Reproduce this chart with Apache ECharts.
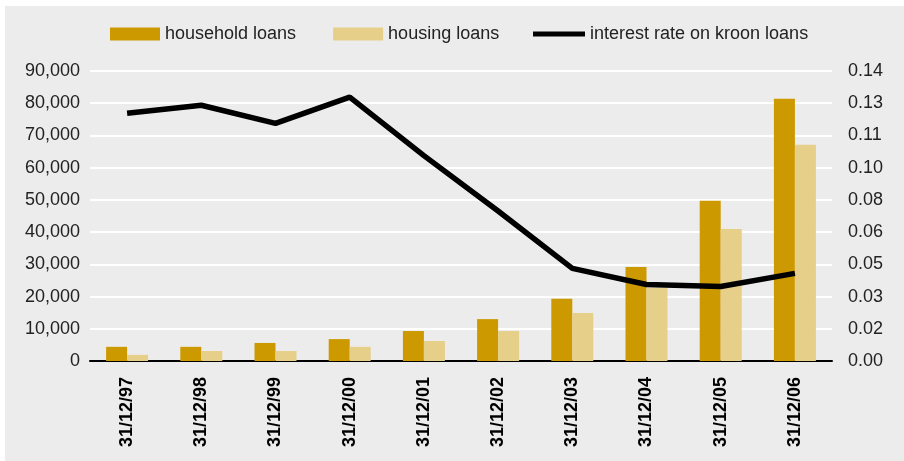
<!DOCTYPE html>
<html>
<head>
<meta charset="utf-8">
<script src="https://cdn.jsdelivr.net/npm/echarts@6/dist/echarts.min.js"></script>
<style>
  html, body { margin: 0; padding: 0; background: #ffffff; }
  #panel { position: absolute; left: 5px; top: 6px; width: 899px; height: 455px; background: #ececec; }
  #chart { position: absolute; left: 0; top: 0; width: 904px; height: 461px; }
</style>
</head>
<body>
<div id="panel"></div>
<div id="chart"></div>
<script>
// Year-end dates
const categories = ['31/12/97', '31/12/98', '31/12/99', '31/12/00', '31/12/01',
                    '31/12/02', '31/12/03', '31/12/04', '31/12/05', '31/12/06'];
// Loan stocks (left axis)
const householdLoans = [4400, 4400, 5600, 6800, 9300, 13000, 19300, 29200, 49700, 81400];
const housingLoans   = [1900, 3100, 3100, 4400, 6200, 9300, 14900, 22700, 41000, 67100];
// Interest rate on kroon loans (right axis)
const kroonRate = [0.123, 0.127, 0.118, 0.131, 0.102, 0.0745, 0.046, 0.038, 0.037, 0.0435];

const FONT = 'Liberation Sans, Arial, Helvetica, sans-serif';
const chart = echarts.init(document.getElementById('chart'), null, { renderer: 'canvas' });

chart.setOption({
  backgroundColor: 'transparent',
  animation: false,
  textStyle: { fontFamily: FONT },
  legend: [
    {
      left: 110, top: 25, padding: 0,
      itemWidth: 50, itemHeight: 13, itemGap: 37,
      icon: 'rect',
      textStyle: { fontFamily: FONT, fontSize: 18, color: '#222' },
      data: ['household loans', 'housing loans']
    },
    {
      left: 533, top: 25, padding: 0,
      itemWidth: 52, itemHeight: 5,
      icon: 'rect',
      textStyle: { fontFamily: FONT, fontSize: 18, color: '#222' },
      data: ['interest rate on kroon loans']
    }
  ],
  grid: { left: 90, right: 72, top: 71, bottom: 100 },
  xAxis: {
    type: 'category',
    data: categories,
    axisLine: { lineStyle: { color: '#000', width: 2 } },
    axisTick: { show: false },
    axisLabel: {
      rotate: 90, margin: 16, interval: 0,
      fontFamily: FONT, fontSize: 18, fontWeight: 'bold', color: '#000'
    }
  },
  yAxis: [
    {
      type: 'value', min: 0, max: 90000, interval: 10000,
      axisLine: { show: false }, axisTick: { show: false },
      splitLine: { lineStyle: { color: '#ffffff', width: 2 } },
      axisLabel: {
        margin: 10, fontFamily: FONT, fontSize: 18, color: '#222',
        formatter: v => v.toLocaleString('en-US')
      }
    },
    {
      type: 'value', min: 0, max: 0.144, interval: 0.016,
      axisLine: { show: false }, axisTick: { show: false },
      splitLine: { show: false },
      axisLabel: {
        margin: 16, fontFamily: FONT, fontSize: 18, color: '#222',
        formatter: v => v.toFixed(2)
      }
    }
  ],
  series: [
    {
      name: 'household loans', type: 'bar', data: householdLoans,
      barWidth: 21, barGap: '0%',
      itemStyle: { color: '#cc9900' }
    },
    {
      name: 'housing loans', type: 'bar', data: housingLoans,
      barWidth: 21,
      itemStyle: { color: '#e6cf88' }
    },
    {
      name: 'interest rate on kroon loans', type: 'line', yAxisIndex: 1,
      data: kroonRate, symbol: 'none', z: 5,
      lineStyle: { color: '#000', width: 5.5 },
      itemStyle: { color: '#000' }
    }
  ]
});
</script>
</body>
</html>
